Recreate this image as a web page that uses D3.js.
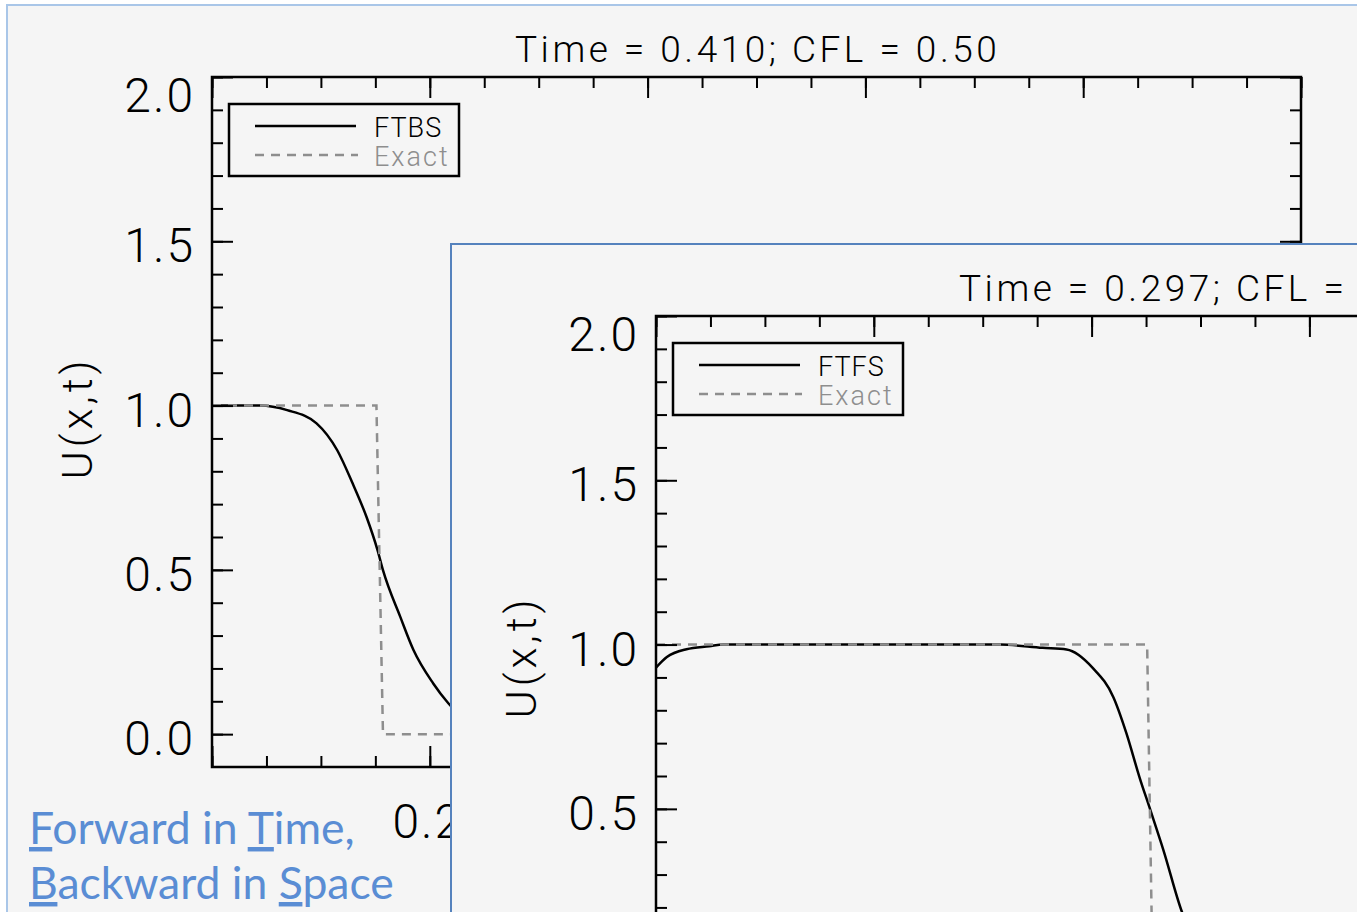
<!DOCTYPE html>
<html lang="en">
<head>
<meta charset="UTF-8">
<title>FTBS / FTFS</title>
<script src="https://cdn.jsdelivr.net/npm/d3@7"></script>
<style>
  html, body { margin: 0; padding: 0; background: #fff; overflow: hidden; }
  svg { display: block; }
  .idl { font-family: Roboto, "Liberation Sans", sans-serif; font-weight: 300; fill: #000; }
  .tick line { stroke: #000; stroke-width: 2px; }
  .slide { font-family: Lato, "Open Sans", sans-serif; fill: #5a8dd4; }
</style>
</head>
<body>
<svg></svg>
<script>
const [width, height] = [1357, 912]

// panel 1 : forward time, backward space
const ftbsX = [0, 0.044, 0.069, 0.096, 0.115, 0.129, 0.142, 0.152, 0.157, 0.173, 0.185, 0.203, 0.217, 0.23]
const ftbsU = [1.0, 1.0, 0.986, 0.946, 0.864, 0.764, 0.660, 0.560, 0.499, 0.356, 0.256, 0.155, 0.094, 0.05]
const exactBsX = [0, 0.151, 0.157, 0.23]
const exactBsU = [1, 1, 0, 0]

// panel 2 : forward time, forward space
const ftfsX = [0, 0.010, 0.028, 0.049, 0.062, 0.20, 0.316, 0.355, 0.377, 0.401, 0.420, 0.432, 0.444, 0.454, 0.466, 0.483, 0.50]
const ftfsU = [0.93, 0.962, 0.986, 0.995, 1.0, 1.0, 1.0, 0.99, 0.985, 0.929, 0.840, 0.730, 0.596, 0.496, 0.374, 0.186, 0.07]
const exactFsX = [0, 0.451, 0.456, 0.6]
const exactFsU = [1, 1, 0, 0]

const titles = ["Time = 0.410; CFL = 0.50", "Time = 0.297; CFL ="]
const schemes = ["FTBS", "FTFS"]

const yMajor = [0, 0.5, 1.0, 1.5, 2.0]
const yMinor = d3.range(0, 21).map(i => i / 10)
const xMajor = [0, 0.2, 0.4, 0.6, 0.8, 1.0]
const xMinor = d3.range(0, 21).map(i => i / 20)
const xLabels = [0.2]   // the only x label left uncovered on the slide

const svg = d3.select("svg").attr("width", width).attr("height", height)
svg.append("rect").attr("width", width).attr("height", height).attr("fill", "#fff")

const plot = {left: 205, top: 72, w: 1089, h: 690}
const x = d3.scaleLinear().domain([0, 1]).range([0, plot.w])
const y = d3.scaleLinear().domain([-0.1, 2.0]).range([plot.h, 0])
const line = d3.line().x(d => x(d[0])).y(d => y(d[1])).curve(d3.curveMonotoneX)
const fmt = d3.format(".1f")

const ticks = (g, axis, vals, size) => g.call(axis.tickValues(vals).tickSize(size).tickFormat(""))
    .call(g => g.select(".domain").remove())

function panel(i, ox, oy, border, bw, xs, us, exs, eus) {
    const p = svg.append("g").attr("transform", `translate(${ox},${oy})`)
    p.append("rect").attr("width", 1600).attr("height", 1200)
        .attr("fill", "#f5f5f5").attr("stroke", border).attr("stroke-width", bw)
    const onScreen = v => oy + v < height - 5

    const g = p.append("g").attr("transform", `translate(${plot.left},${plot.top})`)
    const clipId = "clip" + i
    g.append("clipPath").attr("id", clipId).append("rect").attr("width", plot.w).attr("height", plot.h)

    const lines = g.append("g").attr("clip-path", `url(#${clipId})`)
    lines.append("path").attr("d", line(d3.zip(xs, us)))
        .attr("fill", "none").attr("stroke", "#000").attr("stroke-width", 2.5)
    lines.append("path").attr("d", d3.line().x(d => x(d[0])).y(d => y(d[1]))(d3.zip(exs, eus)))
        .attr("fill", "none").attr("stroke", "#8e8e8e").attr("stroke-width", 2.5)
        .attr("stroke-dasharray", "9 7")

    // inward ticks on all four sides
    ticks(g.append("g"), d3.axisRight(y), yMinor, 11)
    ticks(g.append("g"), d3.axisRight(y), yMajor, 21)
    ticks(g.append("g").attr("transform", `translate(${plot.w},0)`), d3.axisLeft(y), yMinor, 11)
    ticks(g.append("g").attr("transform", `translate(${plot.w},0)`), d3.axisLeft(y), yMajor, 21)
    ticks(g.append("g"), d3.axisBottom(x), xMinor, 11)
    ticks(g.append("g"), d3.axisBottom(x), xMajor, 21)
    ticks(g.append("g").attr("transform", `translate(0,${plot.h})`), d3.axisTop(x), xMinor, 11)
    ticks(g.append("g").attr("transform", `translate(0,${plot.h})`), d3.axisTop(x), xMajor, 21)
    g.append("rect").attr("width", plot.w).attr("height", plot.h)
        .attr("fill", "none").attr("stroke", "#000").attr("stroke-width", 2.5)

    // tick labels (the top one is pushed down inside the frame, IDL style)
    g.selectAll(".ylab").data(yMajor.filter(d => onScreen(plot.top + y(d) + 20))).join("text")
        .attr("class", "idl")
        .attr("x", -17).attr("y", d => Math.max(y(d) + 21, 35))
        .attr("text-anchor", "end").attr("font-size", 48).attr("letter-spacing", 2)
        .text(fmt)
    g.selectAll(".xlab").data(xLabels.filter(() => onScreen(plot.top + plot.h + 70))).join("text")
        .attr("class", "idl")
        .attr("x", d => x(d) - 2).attr("y", plot.h + 71)
        .attr("text-anchor", "middle").attr("font-size", 48).attr("letter-spacing", 2)
        .text(fmt)

    g.append("text").attr("class", "idl")
        .attr("transform", `translate(${-120},${plot.h / 2 - 4}) rotate(-90)`)
        .attr("text-anchor", "middle").attr("font-size", 43).attr("letter-spacing", 4)
        .text("U(x,t)")

    p.append("text").attr("class", "idl").attr("x", 508).attr("y", 57)
        .attr("font-size", 37).attr("letter-spacing", 3.5)
        .text(titles[i])

    // legend
    const lg = p.append("g").attr("transform", "translate(222,99)")
    lg.append("rect").attr("width", 230).attr("height", 72)
        .attr("fill", "none").attr("stroke", "#000").attr("stroke-width", 2.5)
    lg.append("line").attr("x1", 26).attr("x2", 127).attr("y1", 22).attr("y2", 22)
        .attr("stroke", "#000").attr("stroke-width", 2.5)
    lg.append("line").attr("x1", 26).attr("x2", 129).attr("y1", 51).attr("y2", 51)
        .attr("stroke", "#8e8e8e").attr("stroke-width", 2.5).attr("stroke-dasharray", "9 7")
    lg.append("text").attr("class", "idl").attr("x", 145).attr("y", 33)
        .attr("font-size", 27).attr("letter-spacing", 1).text(schemes[i])
    lg.append("text").attr("class", "idl").attr("x", 145).attr("y", 62)
        .attr("font-size", 27).attr("letter-spacing", 2).style("fill", "#8e8e8e").text("Exact")
    return p
}

const p1 = panel(0, 7, 5, "#a9c6e8", 2, ftbsX, ftbsU, exactBsX, exactBsU)

// slide caption over the first plot
const capText = p1.append("text").attr("class", "slide").attr("font-size", 44.5)
const t1 = capText.append("tspan").attr("x", 22).attr("y", 839)
t1.append("tspan").attr("text-decoration", "underline").text("F")
t1.append("tspan").text("orward in ")
t1.append("tspan").attr("text-decoration", "underline").text("T")
t1.append("tspan").text("ime,")
const t2 = capText.append("tspan").attr("x", 22).attr("y", 894)
t2.append("tspan").attr("text-decoration", "underline").text("B")
t2.append("tspan").text("ackward in ")
t2.append("tspan").attr("text-decoration", "underline").text("S")
t2.append("tspan").text("pace")

panel(1, 451, 244, "#5582bd", 2, ftfsX, ftfsU, exactFsX, exactFsU)
</script>
</body>
</html>
